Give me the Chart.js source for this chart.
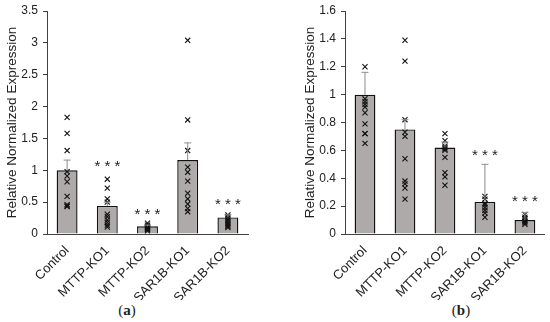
<!DOCTYPE html>
<html>
<head>
  <title>Relative Normalized Expression</title>
  <style>
    body {
      margin: 0;
      background: #fff;
      font-family: "Liberation Sans", Arial, sans-serif;
    }
    #wrap {
      position: relative;
      width: 550px;
      height: 322px;
      overflow: hidden;
    }
    .panel {
      position: absolute;
      top: 0;
    }
    #chartA { left: 0; }
    #chartB { left: 298px; }
    .caption {
      position: absolute;
      top: 302px;
      font-family: "Liberation Serif", "Times New Roman", serif;
      font-size: 15px;
      color: #222;
      transform: translateX(-50%);
    }
    .caption b { font-weight: bold; }
  </style>
</head>
<body>
  <div id="wrap">
    <canvas id="chartA" class="panel" width="275" height="300"></canvas>
    <canvas id="chartB" class="panel" width="252" height="300"></canvas>
    <div class="caption" style="left:127px">(<b>a</b>)</div>
    <div class="caption" style="left:461px">(<b>b</b>)</div>
  </div>

  <script src="https://cdn.jsdelivr.net/npm/chart.js"></script>
  <script>
    const categories = ["Control", "MTTP-KO1", "MTTP-KO2", "SAR1B-KO1", "SAR1B-KO2"];

    // panel (a)
    const meansA = [1.0, 0.44, 0.12, 1.16, 0.26];
    const errTopA = [1.16, 0.50, 0.14, 1.43, 0.30];
    const pointsA = [
      [1.83, 1.58, 1.31, 0.98, 0.91, 0.82, 0.59, 0.46, 0.43, 0.44],
      [0.86, 0.72, 0.55, 0.50, 0.31, 0.27, 0.22, 0.18, 0.14, 0.11],
      [0.17, 0.14, 0.12, 0.11, 0.10, 0.09, 0.08, 0.07, 0.05],
      [3.04, 1.79, 1.31, 1.05, 0.97, 0.83, 0.64, 0.55, 0.47, 0.40, 0.35],
      [0.30, 0.27, 0.25, 0.22, 0.19, 0.16, 0.14, 0.12, 0.10]
    ];
    const starsA = [null, 1.10, 0.35, null, 0.51];
    const yTicksA = { max: 3.5, step: 0.5 };

    // panel (b)
    const meansB = [1.0, 0.75, 0.62, 0.23, 0.10];
    const errTopB = [1.16, 0.82, 0.66, 0.50, 0.155];
    const pointsB = [
      [1.20, 0.97, 0.95, 0.93, 0.91, 0.87, 0.79, 0.72, 0.72, 0.65],
      [1.39, 1.24, 0.82, 0.73, 0.70, 0.54, 0.38, 0.36, 0.33, 0.25],
      [0.72, 0.67, 0.63, 0.62, 0.61, 0.60, 0.55, 0.44, 0.41, 0.35],
      [0.27, 0.25, 0.22, 0.21, 0.19, 0.17, 0.15, 0.12],
      [0.14, 0.12, 0.11, 0.10, 0.09, 0.08, 0.07]
    ];
    const starsB = [null, null, null, 0.585, 0.25];
    const yTicksB = { max: 1.6, step: 0.2 };

    const axisColor = "#404040";
    const fontFamily = "'Liberation Sans', Arial, sans-serif";

    // error bars (upper only) + significance stars
    const extrasPlugin = {
      id: 'extras',
      afterDatasetsDraw(chart, args, opts) {
        const x = chart.scales.x, y = chart.scales.y, c = chart.ctx;
        c.save();
        c.strokeStyle = "#8c8c8c";
        c.lineWidth = 1;
        opts.means.forEach((m, i) => {
          const px = x.getPixelForValue(i);
          const y0 = y.getPixelForValue(m), y1 = y.getPixelForValue(opts.errTop[i]);
          c.beginPath();
          c.moveTo(px, y0); c.lineTo(px, y1);
          c.moveTo(px - 3.5, y1); c.lineTo(px + 3.5, y1);
          c.stroke();
        });
        c.fillStyle = "#222";
        c.font = "15px " + fontFamily;
        c.textAlign = "center";
        c.textBaseline = "middle";
        opts.stars.forEach((s, i) => {
          if (s === null) return;
          c.fillText("* * *", x.getPixelForValue(i), y.getPixelForValue(s) + 3);
        });
        c.restore();
      }
    };

    function makeChart(id, means, errTop, points, stars, yt, padRight) {
      const scatter = [];
      points.forEach((list, i) => list.forEach(v => scatter.push({ x: categories[i], y: v })));
      return new Chart(document.getElementById(id), {
        data: {
          labels: categories,
          datasets: [
            {
              type: 'scatter',
              data: scatter,
              pointStyle: 'crossRot',
              pointRadius: 3.6,
              borderColor: "#111",
              borderWidth: 1.1,
              order: 0
            },
            {
              type: 'bar',
              data: means,
              backgroundColor: "#aeaaaa",
              borderColor: "#111",
              borderWidth: 1.4,
              categoryPercentage: 1,
              barPercentage: 0.52,
              order: 1
            }
          ]
        },
        options: {
          responsive: false,
          animation: false,
          layout: { padding: { top: 11, right: padRight, left: 0, bottom: 0 } },
          plugins: {
            legend: { display: false },
            tooltip: { enabled: false },
            extras: { means, errTop, stars }
          },
          scales: {
            x: {
              type: 'category',
              offset: true,
              grid: { display: true, drawOnChartArea: false, drawTicks: false },
              border: { color: axisColor, width: 1 },
              ticks: {
                color: "#222",
                font: { size: 13, family: fontFamily },
                maxRotation: 45,
                minRotation: 45,
                padding: 9
              },
              afterFit(s) { s.height = 66; s.paddingLeft = 0; s.paddingRight = 0; }
            },
            y: {
              min: 0,
              max: yt.max,
              grid: { drawOnChartArea: false, tickLength: 4, color: axisColor },
              border: { color: axisColor, width: 1 },
              ticks: {
                stepSize: yt.step,
                color: "#222",
                font: { size: 12, family: fontFamily },
                padding: 5,
                callback: v => String(Number(v.toFixed(2)))
              },
              title: {
                display: true,
                text: "Relative Normalized Expression",
                color: "#222",
                font: { size: 13.5, family: fontFamily },
                padding: { top: 4, bottom: 0 }
              },
              afterFit(s) { s.width = 47; s.paddingTop = 0; s.paddingBottom = 0; }
            }
          }
        },
        plugins: [extrasPlugin]
      });
    }

    makeChart('chartA', meansA, errTopA, pointsA, starsA, yTicksA, 27);
    makeChart('chartB', meansB, errTopB, pointsB, starsB, yTicksB, 4);
  </script>
</body>
</html>
